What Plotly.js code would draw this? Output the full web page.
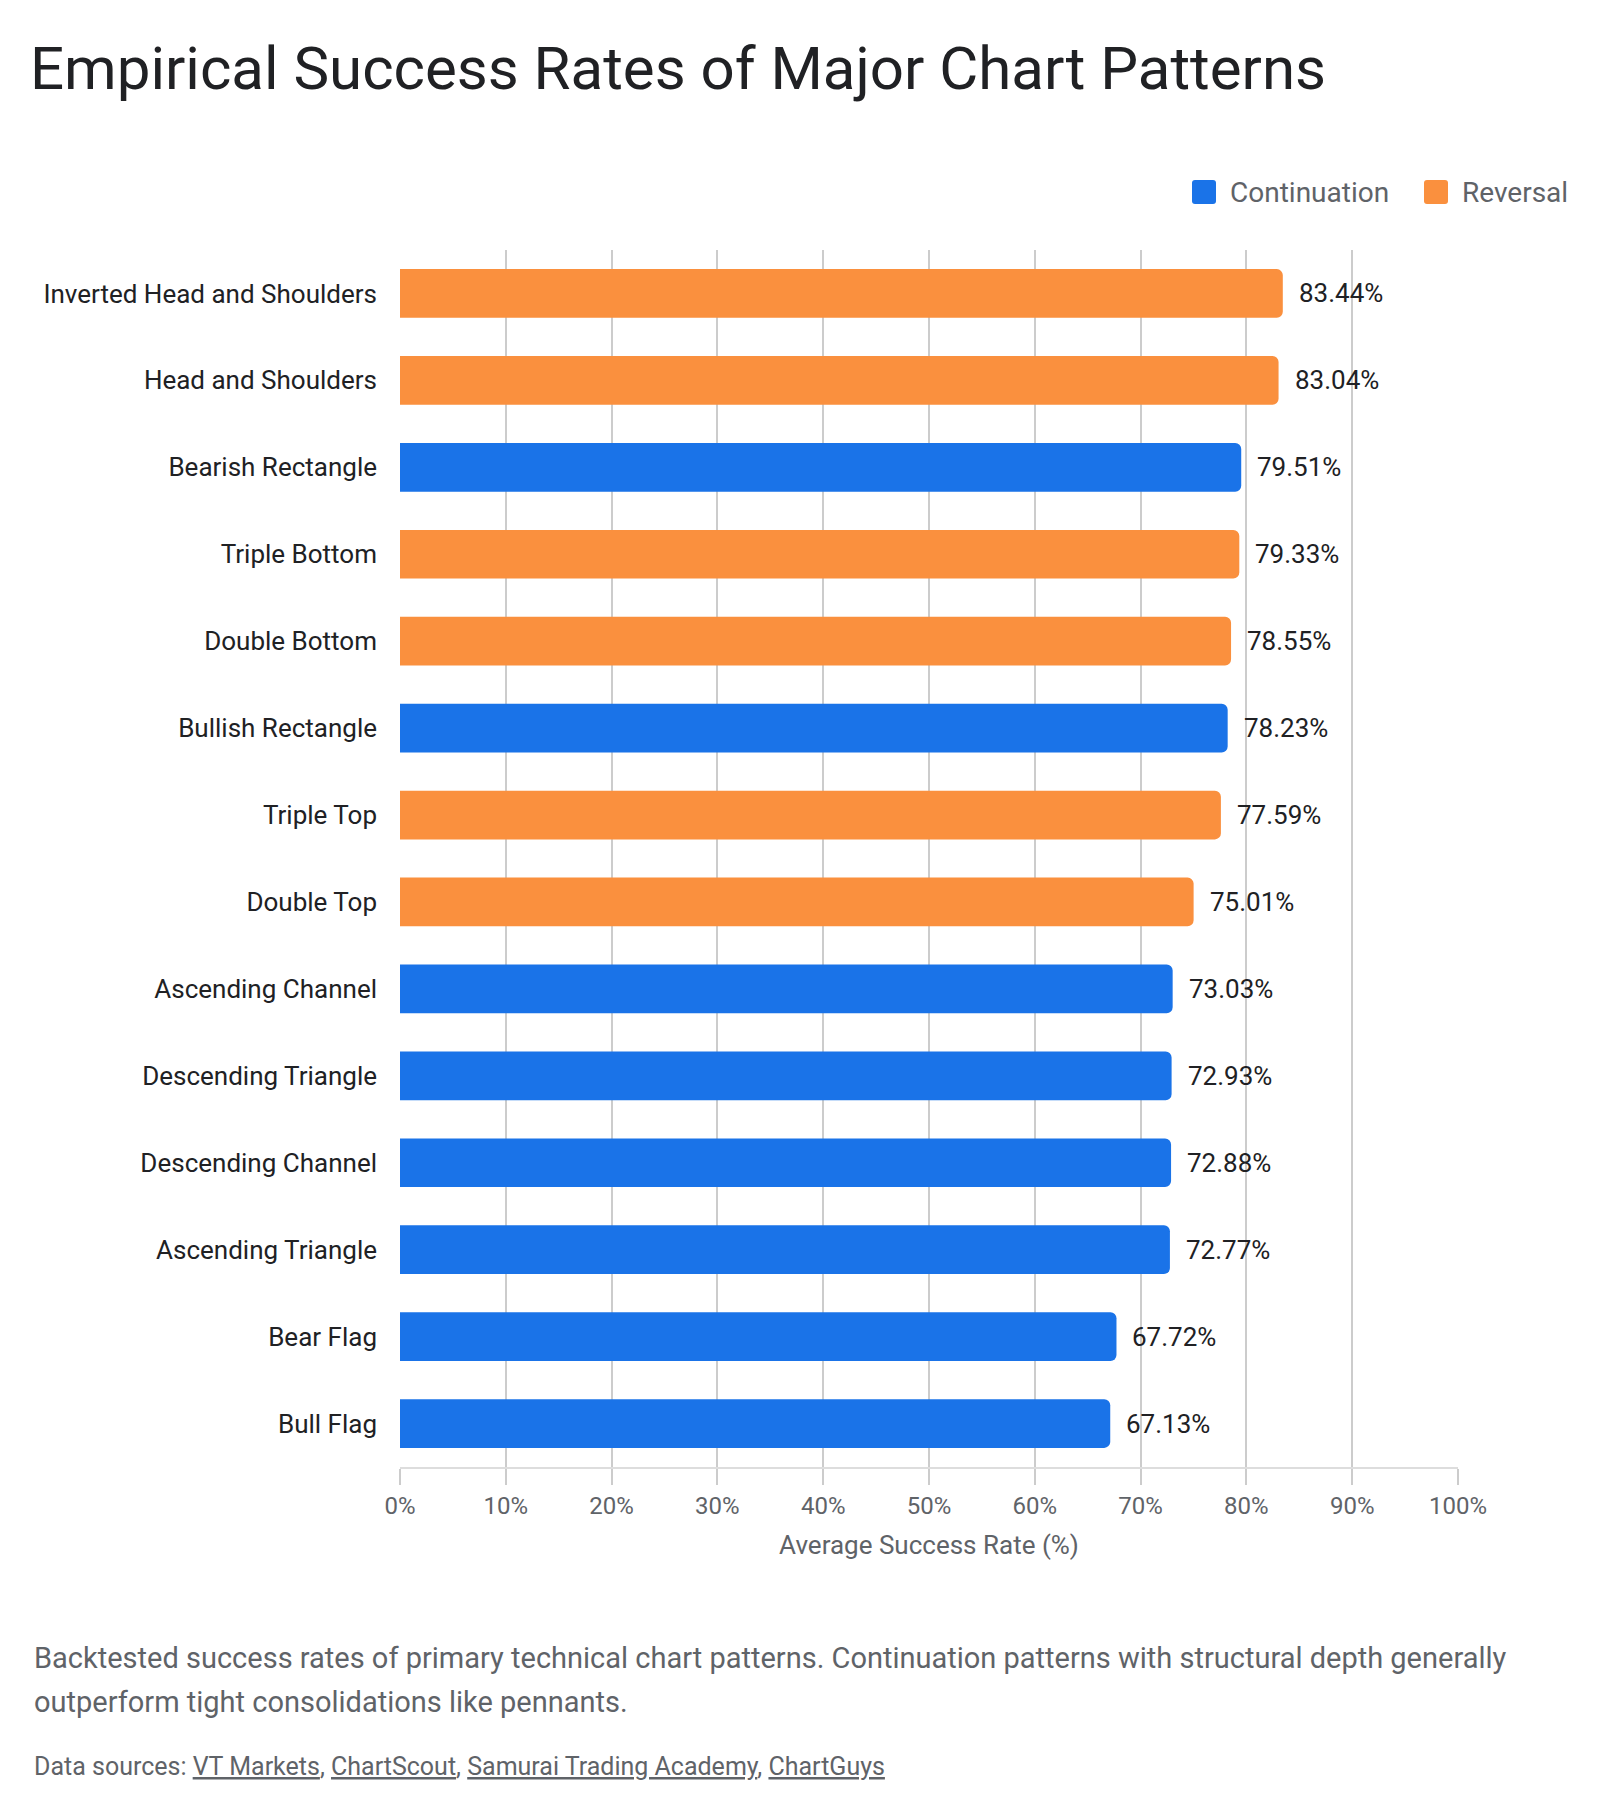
<!DOCTYPE html>
<html>
<head>
<meta charset="utf-8">
<script src="https://cdn.plot.ly/plotly-3.0.1.min.js"></script>
<style>
  html, body { margin: 0; padding: 0; background: #ffffff; }
  #chart { width: 1600px; height: 1814px; }
</style>
</head>
<body>
<div id="chart"></div>
<script>
// Pattern names, top to bottom
const patterns = [
  "Inverted Head and Shoulders",
  "Head and Shoulders",
  "Bearish Rectangle",
  "Triple Bottom",
  "Double Bottom",
  "Bullish Rectangle",
  "Triple Top",
  "Double Top",
  "Ascending Channel",
  "Descending Triangle",
  "Descending Channel",
  "Ascending Triangle",
  "Bear Flag",
  "Bull Flag"
];

// Average success rate (%) per pattern
const successRates = [83.44, 83.04, 79.51, 79.33, 78.55, 78.23, 77.59, 75.01, 73.03, 72.93, 72.88, 72.77, 67.72, 67.13];

// Pattern family per pattern
const patternTypes = [
  "Reversal", "Reversal", "Continuation", "Reversal", "Reversal", "Continuation", "Reversal",
  "Reversal", "Continuation", "Continuation", "Continuation", "Continuation", "Continuation", "Continuation"
];

const typeNames = ["Continuation", "Reversal"];
const typeColors = { "Continuation": "#1a73e8", "Reversal": "#fa903e" };

const xTickValues = [0, 10, 20, 30, 40, 50, 60, 70, 80, 90, 100];

// Page geometry (pixels)
const W = 1600, H = 1814;
const M = { l: 400, r: 142, t: 250, b: 347 };
const plotW = W - M.l - M.r;
const plotH = H - M.t - M.b;
const pxX = p => (p - M.l) / plotW;
const pxY = q => (H - M.b - q) / plotH;

const FONT = "Roboto, 'Noto Sans', 'DejaVu Sans', sans-serif";

// One bar trace per family so each keeps its own colour
const traces = typeNames.map(t => {
  const ys = [], xs = [];
  patterns.forEach((p, i) => { if (patternTypes[i] === t) { ys.push(p); xs.push(successRates[i]); } });
  return {
    type: "bar",
    orientation: "h",
    name: t,
    y: ys,
    x: xs,
    marker: { color: typeColors[t], line: { width: 0 } },
    hovertemplate: "%{y}: %{x:.2f}%<extra>" + t + "</extra>",
    showlegend: false
  };
});

// Value labels at the end of each bar
const valueLabels = patterns.map((p, i) => ({
  x: successRates[i],
  y: p,
  xref: "x",
  yref: "y",
  text: successRates[i].toFixed(2) + "%",
  showarrow: false,
  xanchor: "left",
  yanchor: "middle",
  xshift: 14,
  font: { family: FONT, size: 26, color: "#202124" }
}));

// Legend: rounded swatches plus labels
const legendItems = [
  { name: typeNames[0], sx: 1204, tx: 1228 },
  { name: typeNames[1], sx: 1436, tx: 1460 }
];
const legendY = 192;
const swatch = "M -12,-9 Q -12,-12 -9,-12 L 9,-12 Q 12,-12 12,-9 L 12,9 Q 12,12 9,12 L -9,12 Q -12,12 -12,9 Z";
const legendShapes = legendItems.map(it => ({
  type: "path",
  xref: "paper", yref: "paper",
  xsizemode: "pixel", ysizemode: "pixel",
  xanchor: pxX(it.sx), yanchor: pxY(legendY),
  path: swatch,
  fillcolor: typeColors[it.name],
  line: { width: 0 }
}));
const legendLabels = legendItems.map(it => ({
  x: pxX(it.tx), y: pxY(legendY),
  xref: "paper", yref: "paper",
  text: it.name,
  showarrow: false,
  xanchor: "left", yanchor: "middle",
  font: { family: FONT, size: 28, color: "#5f6368" }
}));

// Caption and sources below the chart
const footer = [
  {
    x: pxX(32), y: pxY(1658),
    text: "Backtested success rates of primary technical chart patterns. Continuation patterns with structural depth generally",
    font: { family: FONT, size: 29, color: "#5f6368" }
  },
  {
    x: pxX(32), y: pxY(1702),
    text: "outperform tight consolidations like pennants.",
    font: { family: FONT, size: 29, color: "#5f6368" }
  },
  {
    x: pxX(32), y: pxY(1766),
    text: "Data sources: <span style=\"text-decoration:underline\">VT Markets</span>, " +
          "<span style=\"text-decoration:underline\">ChartScout</span>, " +
          "<span style=\"text-decoration:underline\">Samurai Trading Academy</span>, " +
          "<span style=\"text-decoration:underline\">ChartGuys</span>",
    font: { family: FONT, size: 25, color: "#5f6368" }
  }
].map(a => Object.assign({ xref: "paper", yref: "paper", showarrow: false, xanchor: "left", yanchor: "middle", align: "left" }, a));

const layout = {
  width: W,
  height: H,
  margin: M,
  paper_bgcolor: "#ffffff",
  plot_bgcolor: "#ffffff",
  font: { family: FONT, color: "#202124" },
  title: {
    text: "Empirical Success Rates of Major Chart Patterns",
    xref: "container", yref: "container",
    x: 30 / W, xanchor: "left",
    y: 1 - 68 / H, yanchor: "middle",
    font: { family: FONT, size: 60, color: "#202124" }
  },
  barmode: "relative",
  bargap: 0.44,
  barcornerradius: 6,
  xaxis: {
    range: [0, 100],
    tickvals: xTickValues,
    ticktext: xTickValues.map(v => v + "%"),
    layer: "below traces",
    showgrid: true,
    gridcolor: "#cccccc",
    gridwidth: 2,
    zeroline: false,
    showline: true,
    linecolor: "#dddddd",
    linewidth: 2,
    ticks: "outside",
    ticklen: 16,
    tickwidth: 2,
    tickcolor: "#cccccc",
    tickfont: { family: FONT, size: 24, color: "#5f6368" },
    title: {
      text: "Average Success Rate (%)",
      font: { family: FONT, size: 26, color: "#5f6368" },
      standoff: 17
    },
    fixedrange: true
  },
  yaxis: {
    type: "category",
    categoryorder: "array",
    categoryarray: patterns,
    range: [patterns.length - 0.5, -0.5],
    showgrid: false,
    zeroline: false,
    showline: false,
    ticks: "",
    ticklabelstandoff: 22,
    tickfont: { family: FONT, size: 26, color: "#202124" },
    fixedrange: true
  },
  shapes: legendShapes,
  annotations: valueLabels.concat(legendLabels, footer),
  showlegend: false
};

Plotly.newPlot("chart", traces, layout, { displayModeBar: false, staticPlot: true });
</script>
</body>
</html>
